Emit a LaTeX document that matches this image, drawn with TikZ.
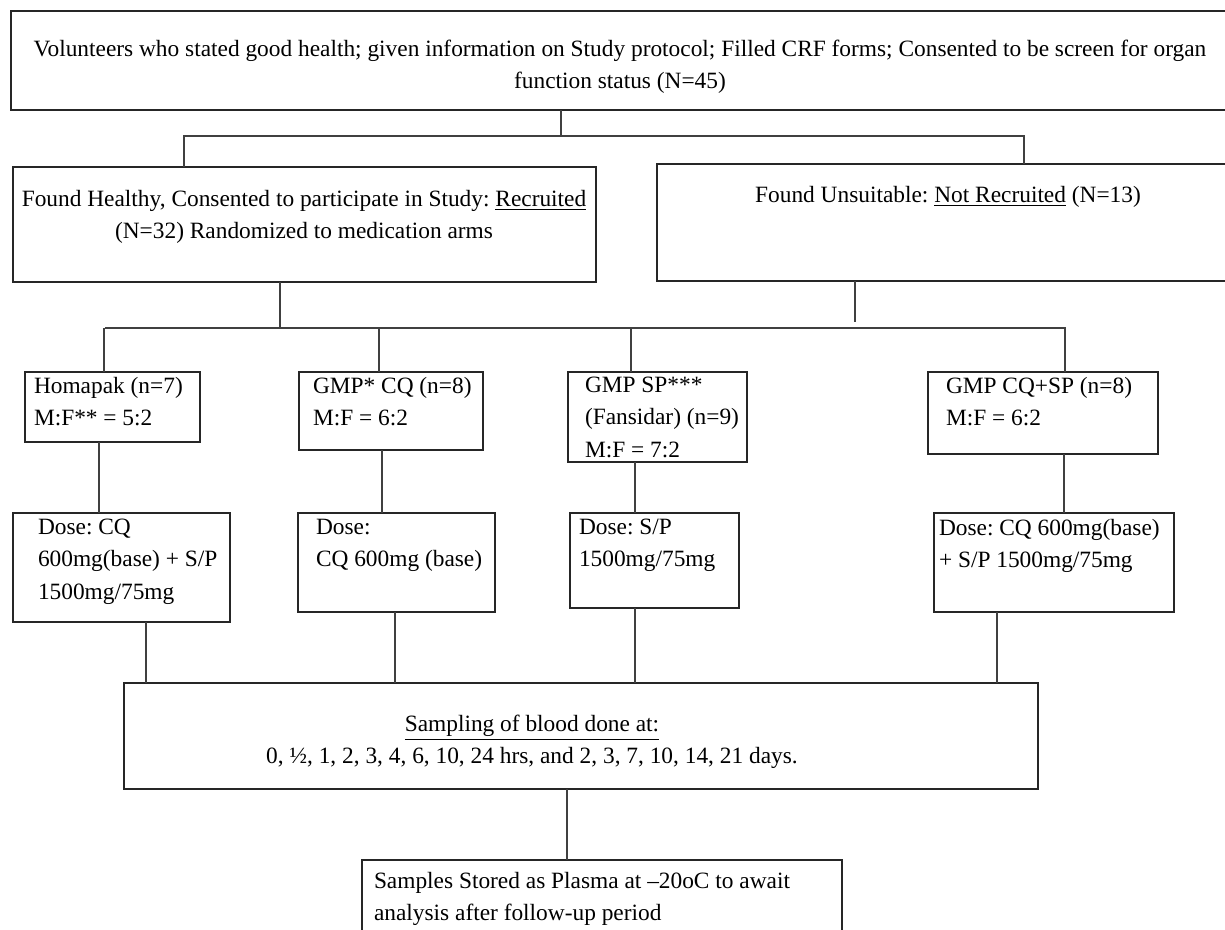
\documentclass[tikz,border=0pt]{standalone}
\usepackage{fontspec}
\setmainfont{Liberation Serif}
\usetikzlibrary{positioning}
\frenchspacing
\newcommand{\fs}{\fontsize{13.3}{18.4}\selectfont}

\begin{document}
\begin{tikzpicture}[x=0.02cm,y=-0.02cm]
	\useasboundingbox (0,0) rectangle (1225,930);
	\tikzstyle{every node}=[inner sep=0pt, outer sep=0pt, font=\fs]
	\tikzstyle{box}=[draw=black!85, line width=0.8pt, anchor=north west]
	\tikzstyle{txt}=[anchor=north west, align=left]
	\tikzstyle{link}=[draw=black!75, line width=0.8pt]
	% boxes
	\draw (11,11) node (top) [box, minimum width=24.48cm, minimum height=1.98cm] {};
	\draw (13,167) node (healthy) [box, minimum width=11.66cm, minimum height=2.3cm] {};
	\draw (657,164) node (unsuitable) [box, minimum width=11.56cm, minimum height=2.34cm] {};
	\draw (25,372) node (homapak) [box, minimum width=3.5cm, minimum height=1.4cm] {};
	\draw (299,372) node (gmpcq) [box, minimum width=3.68cm, minimum height=1.56cm] {};
	\draw (568,372) node (gmpsp) [box, minimum width=3.58cm, minimum height=1.8cm] {};
	\draw (928,372) node (gmpcqsp) [box, minimum width=4.6cm, minimum height=1.64cm] {};
	\draw (13,513) node (dose1) [box, minimum width=4.34cm, minimum height=2.18cm] {};
	\draw (298,513) node (dose2) [box, minimum width=3.94cm, minimum height=1.98cm] {};
	\draw (570,513) node (dose3) [box, minimum width=3.38cm, minimum height=1.9cm] {};
	\draw (934,513) node (dose4) [box, minimum width=4.8cm, minimum height=1.98cm] {};
	\draw (124,683) node (sampling) [box, minimum width=18.28cm, minimum height=2.12cm] {};
	\draw (362,860) node (stored) [box, minimum width=9.6cm, minimum height=2cm] {};
	% texts
	\draw (620,40) node (top-t) [anchor=north, align=center] {Volunteers who stated good health; given information on Study protocol; Filled CRF forms; Consented to be screen for organ\\function status (N=45)};
	\draw (304,190) node (healthy-t) [anchor=north, align=center] {Found Healthy, Consented to participate in Study: \underline{Recruited}\\(N=32) Randomized to medication arms};
	\draw (948,186) node (unsuitable-t) [anchor=north, align=center] {Found Unsuitable: \underline{Not Recruited} (N=13)};
	\draw (34,377) node (homapak-t) [txt] {Homapak (n=7)\\M:F** = 5:2};
	\draw (313,377) node (gmpcq-t) [txt] {GMP* CQ (n=8)\\M:F = 6:2};
	\draw (585,377) node (gmpsp-t) [txt] {GMP SP***\\(Fansidar) (n=9)\\M:F = 7:2};
	\draw (946,377) node (gmpcqsp-t) [txt] {GMP CQ+SP (n=8)\\M:F = 6:2};
	\draw (38,519) node (dose1-t) [txt] {Dose: CQ\\600mg(base) + S/P\\1500mg/75mg};
	\draw (316,519) node (dose2-t) [txt] {Dose:\\CQ 600mg (base)};
	\draw (579,519) node (dose3-t) [txt] {Dose: S/P\\1500mg/75mg};
	\draw (939,519) node (dose4-t) [txt] {Dose: CQ 600mg(base)\\+ S/P 1500mg/75mg};
	\draw (532,715) node (sampling-t) [anchor=north, align=center] {\underline{Sampling of blood done at:}\\0, ½, 1, 2, 3, 4, 6, 10, 24 hrs, and 2, 3, 7, 10, 14, 21 days.};
	\draw (374,872) node (stored-t) [txt] {Samples Stored as Plasma at –20oC to await\\analysis after follow-up period};
	% links
	\coordinate (splitA) at (561,136);
	\coordinate (splitAl) at (184,136);
	\coordinate (splitAr) at (1024,136);
	\draw [link] (top.south -| splitA) -- (splitA);
	\draw [link] (healthy.north -| splitAl) -- (splitAl) -- (splitAr) -- (unsuitable.north -| splitAr);
	\coordinate (splitBl) at (105,328);
	\coordinate (splitBr) at (1066,328);
	\coordinate (notrec) at (855,322);
	\draw [link] (splitBl) -- (splitBr);
	\draw [link] (healthy.south -| 280,0) -- (splitBl -| 280,0);
	\draw [link] (unsuitable.south -| notrec) -- (notrec);
	\foreach \x/\n in {104/homapak, 379/gmpcq, 631/gmpsp, 1065/gmpcqsp}
		\draw [link] (splitBl -| \x,0) -- (\n.north -| \x,0);
	\foreach \a/\b/\x in {homapak/dose1/99, gmpcq/dose2/382, gmpsp/dose3/635, gmpcqsp/dose4/1064}
		\draw [link] (\a.south -| \x,0) -- (\b.north -| \x,0);
	\foreach \a/\x in {dose1/146, dose2/395, dose3/635, dose4/997}
		\draw [link] (\a.south -| \x,0) -- (sampling.north -| \x,0);
	\draw [link] (sampling.south -| 567,0) -- (stored.north -| 567,0);
\end{tikzpicture}
\end{document}
